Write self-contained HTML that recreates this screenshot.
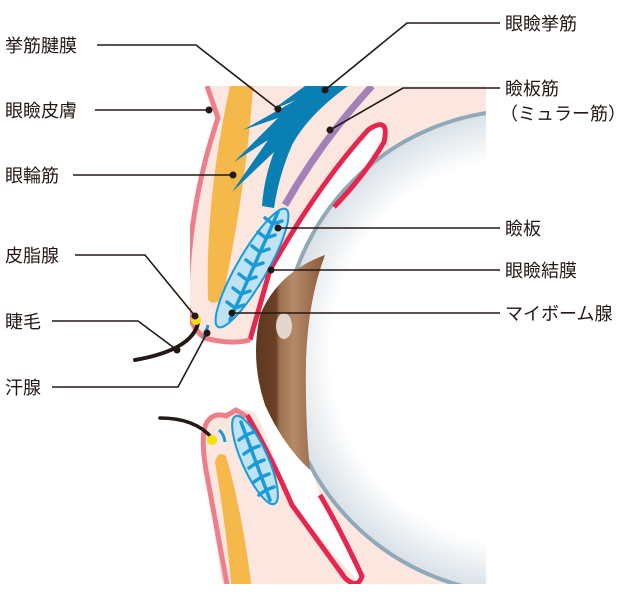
<!DOCTYPE html>
<html><head><meta charset="utf-8"><style>
html,body{margin:0;padding:0;background:#fff;}
svg{display:block;}
text{font-family:"Liberation Sans","Noto Sans CJK JP",sans-serif;font-size:18px;fill:#231815;}
</style></head><body>
<svg width="640" height="608" viewBox="0 0 640 608" xmlns="http://www.w3.org/2000/svg">
<defs>
<radialGradient id="eye" cx="524" cy="352" r="242" gradientUnits="userSpaceOnUse">
<stop offset="0.8" stop-color="#ffffff"/><stop offset="1" stop-color="#d8e0e6"/>
</radialGradient>
<linearGradient id="iris" x1="255" y1="0" x2="325" y2="0" gradientUnits="userSpaceOnUse">
<stop offset="0" stop-color="#5e3820"/><stop offset="0.3" stop-color="#6b4024"/><stop offset="0.35" stop-color="#9a7050"/><stop offset="0.55" stop-color="#b58a68"/><stop offset="1" stop-color="#8a5a3a"/>
</linearGradient>
<clipPath id="box"><rect x="190" y="86" width="296" height="498"/></clipPath>
</defs>
<g clip-path="url(#box)">
<rect x="280" y="86" width="206" height="498" fill="#fbe6e0"/>
<path d="M205,86 L400,86 L400,120 L300,240 L265,300 L250,338 Q225,346 205,342 Q186,330 185,300 Q190,200 217,118 Z" fill="#fbe6e0"/>
<path d="M250,340 L270,270 Q318,185 368,130 Q390,115 386,142 Q365,175 332,207 L330,240 L305,300 L290,345 Z" fill="#fff"/>
<path d="M247,417 Q268,450 292,505 L345,578 Q358,590 362,576 Q338,525 320,495 L300,440 Z" fill="#fff"/>
<circle cx="524" cy="352" r="242" fill="url(#eye)" stroke="#8fa9b8" stroke-width="4"/>
<path d="M325,255 Q308,300 306,360 Q305,420 310,470 Q283,445 265,405 Q250,360 260,315 Q278,272 325,255 Z" fill="url(#iris)"/>
<ellipse cx="284" cy="326" rx="8" ry="13" fill="#e3d6cc"/>
<path d="M250,340 L270,270 Q318,185 368,130 Q390,115 384,142 Q365,175 334,207" fill="none" stroke="#e5264f" stroke-width="5" stroke-linejoin="round"/>
<path d="M207,86 L218,118 Q190,200 187,292 Q186,325 205,338 Q230,345 250,340" fill="none" stroke="#ee7f8a" stroke-width="5"/>
<path d="M230,86 L253,86 Q247,180 224,292 Q218,308 208,300 Q205,200 230,86 Z" fill="#f5b84a"/>
<path d="M372,86 Q322,140 285,205" fill="none" stroke="#a57fb8" stroke-width="7"/>
<path d="M305,86 L348,86 Q308,115 292,145 Q279,175 274,208 L262,206 Q264,178 274,152 L232,192 L268,140 L234,162 L278,118 L243,130 L296,100 L272,110 Z" fill="#0a7fb3"/>
<ellipse cx="252" cy="268" rx="68" ry="15" transform="rotate(-60 252 268)" fill="#bfe3f5" stroke="#1a9ad6" stroke-width="2"/>
<g stroke="#1a9ad6" stroke-width="3.5" fill="none" stroke-linecap="round">
<path d="M278,212 L230,320"/>
<path d="M273,224 l-8,-6 M273,224 l9,-3 M266,238 l-8,-6 M266,238 l9,-3 M260,252 l-8,-6 M260,252 l9,-3 M254,266 l-8,-6 M254,266 l9,-3 M247,280 l-8,-6 M247,280 l9,-3 M241,294 l-8,-6 M241,294 l9,-3 M235,308 l-8,-6 M235,308 l9,-3"/>
</g>
<path d="M208,325 Q206,333 203,338" stroke="#1a9ad6" stroke-width="3" fill="none"/>
<path d="M222,584 L360,584 L292,505 L262,425 L255,413 Q240,406 232,412 Q212,410 205,430 Q200,465 210,500 Z" fill="#fbe6e0"/>
<path d="M247,415 Q268,450 292,505 L345,578 Q358,590 362,576 Q338,525 320,495" fill="none" stroke="#e5264f" stroke-width="5" stroke-linejoin="round"/>
<path d="M228,590 Q215,520 206,470 Q200,435 207,422 Q214,412 226,416 L236,410 L246,416" fill="none" stroke="#ee7f8a" stroke-width="5"/>
<path d="M215,462 Q218,450 226,456 Q242,510 252,590 L232,590 Q225,520 215,462 Z" fill="#f5b84a"/>
<ellipse cx="255" cy="460" rx="48" ry="13" transform="rotate(66 255 460)" fill="#bfe3f5" stroke="#1a9ad6" stroke-width="2"/>
<g stroke="#1a9ad6" stroke-width="3.5" fill="none" stroke-linecap="round">
<path d="M241,422 L270,500"/>
<path d="M246,435 l-7,5 M246,435 l8,-3 M251,449 l-7,5 M251,449 l8,-3 M256,463 l-7,5 M256,463 l8,-3 M261,477 l-7,5 M261,477 l8,-3 M266,490 l-7,5 M266,490 l8,-3"/>
</g>
<path d="M219,430 Q224,434 225,442" stroke="#1a9ad6" stroke-width="3" fill="none"/>
</g>
<path d="M198,323 Q192,350 135,360" fill="none" stroke="#231815" stroke-width="4" stroke-linecap="round"/>
<circle cx="196" cy="320" r="5" fill="#f5e000"/>
<path d="M212,438 Q195,418 160,418" fill="none" stroke="#231815" stroke-width="3.5" stroke-linecap="round"/>
<circle cx="212" cy="440" r="5" fill="#f5e000"/>
<g stroke="#231815" stroke-width="1.6" fill="none">
<path d="M97,45 L196,45 L278,109"/>
<path d="M95,110 L209,110"/>
<path d="M73,175 L233,175"/>
<path d="M75,255 L145,255 L195,316"/>
<path d="M52,321 L138,321 L177,350"/>
<path d="M52,387 L178,387 L207,333"/>
<path d="M500,23 L407,23 L325,90"/>
<path d="M500,88 L403,88 L330,130"/>
<path d="M500,228 L278,228"/>
<path d="M500,270 L271,270"/>
<path d="M500,313 L232,313"/>
</g>
<g fill="#231815">
<circle cx="278" cy="109" r="3.5"/><circle cx="209" cy="110" r="3.5"/><circle cx="233" cy="175" r="3.5"/>
<circle cx="195" cy="316" r="3.5"/><circle cx="177" cy="350" r="3.5"/><circle cx="207" cy="333" r="3.5"/>
<circle cx="325" cy="90" r="3.5"/><circle cx="330" cy="130" r="3.5"/><circle cx="278" cy="228" r="3.5"/>
<circle cx="271" cy="270" r="3.5"/><circle cx="232" cy="313" r="3.5"/>
</g>
<text x="5" y="52">挙筋腱膜</text>
<text x="5" y="117">眼瞼皮膚</text>
<text x="5" y="182">眼輪筋</text>
<text x="5" y="262">皮脂腺</text>
<text x="5" y="328">睫毛</text>
<text x="5" y="394">汗腺</text>
<text x="505" y="30">眼瞼挙筋</text>
<text x="505" y="95">瞼板筋</text>
<text x="500" y="120">（ミュラー筋）</text>
<text x="505" y="235">瞼板</text>
<text x="505" y="277">眼瞼結膜</text>
<text x="505" y="320">マイボーム腺</text>
</svg>
</body></html>
